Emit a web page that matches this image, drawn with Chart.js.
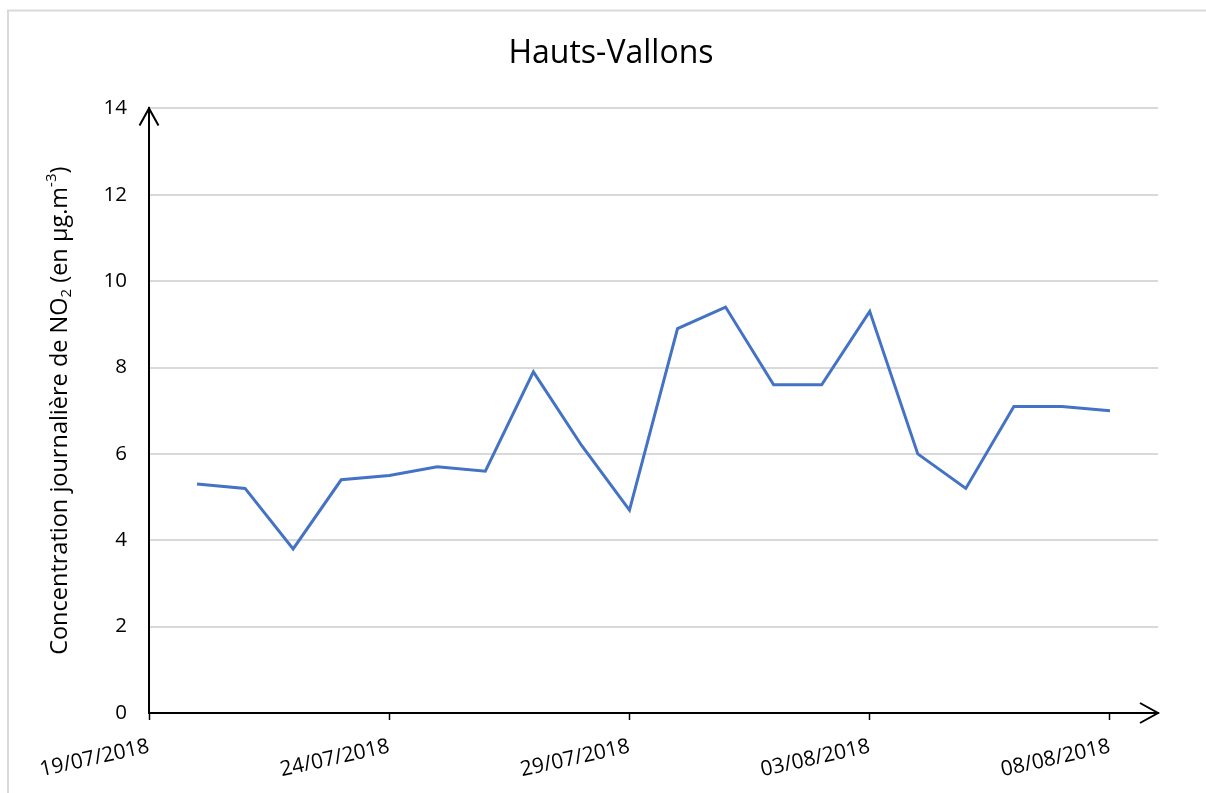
<!DOCTYPE html>
<html>
<head>
<meta charset="utf-8">
<script src="https://cdn.jsdelivr.net/npm/chart.js@4/dist/chart.umd.min.js"></script>
<style>
    html, body { margin: 0; padding: 0; background: #fff; }
    #wrap { width: 1206px; height: 793px; position: relative; }
</style>
</head>
<body>
<div id="wrap"><canvas id="chart"></canvas></div>
<script>
const chartTitle = 'Hauts-Vallons';
const startDate = '19/07/2018';
const dates = ['20/07/2018', '21/07/2018', '22/07/2018', '23/07/2018', '24/07/2018', '25/07/2018', '26/07/2018',
    '27/07/2018', '28/07/2018', '29/07/2018', '30/07/2018', '31/07/2018', '01/08/2018', '02/08/2018',
    '03/08/2018', '04/08/2018', '05/08/2018', '06/08/2018', '07/08/2018', '08/08/2018'];
const no2 = [5.3, 5.2, 3.8, 5.4, 5.5, 5.7, 5.6, 7.9, 6.2, 4.7, 8.9, 9.4, 7.6, 7.6, 9.3, 6.0, 5.2, 7.1, 7.1, 7.0];
const dateTicks = ['19/07/2018', '24/07/2018', '29/07/2018', '03/08/2018', '08/08/2018'];
// y title pieces: [text, 'n' normal | 'sub' | 'sup']
const yTitle = [['Concentration journalière de NO', 'n'], ['2', 'sub'], [' (en µg.m', 'n'], ['-3', 'sup'], [')', 'n']];

const FONT = '"Open Sans", sans-serif';

function dayNum(s) {
    const [d, m, y] = s.split('/').map(Number);
    return Date.UTC(y, m - 1, d) / 86400000;
}
const day0 = dayNum(startDate);
const points = dates.map((d, i) => ({ x: dayNum(d) - day0, y: no2[i] }));

// frame, axis arrows and the y title with sub/superscript
const extras = {
    id: 'extras',
    beforeDraw(chart) {
        const ctx = chart.ctx;
        ctx.save();
        ctx.strokeStyle = '#d9d9d9';
        ctx.lineWidth = 2;
        ctx.strokeRect(8, 10.5, 1400, 1000);
        ctx.restore();
    },
    afterDraw(chart) {
        const ctx = chart.ctx;
        const a = chart.chartArea;
        ctx.save();
        ctx.strokeStyle = '#000';
        ctx.lineWidth = 2;
        ctx.beginPath();
        ctx.moveTo(a.left - 9.5, a.top + 17);
        ctx.lineTo(a.left, a.top);
        ctx.lineTo(a.left + 9.5, a.top + 17);
        ctx.moveTo(a.right - 18, a.bottom - 10);
        ctx.lineTo(a.right, a.bottom);
        ctx.lineTo(a.right - 18, a.bottom + 10);
        ctx.stroke();

        // y title
        const big = '23.5px ' + FONT, small = '15px ' + FONT;
        let total = 0;
        yTitle.forEach(p => {
            ctx.font = p[1] === 'n' ? big : small;
            total += ctx.measureText(p[0]).width;
        });
        ctx.translate(60, (a.top + a.bottom) / 2);
        ctx.rotate(-Math.PI / 2);
        ctx.fillStyle = '#000';
        ctx.textBaseline = 'middle';
        let x = -total / 2;
        yTitle.forEach(p => {
            ctx.font = p[1] === 'n' ? big : small;
            const dy = p[1] === 'sub' ? 7 : (p[1] === 'sup' ? -8 : 0);
            ctx.fillText(p[0], x, dy);
            x += ctx.measureText(p[0]).width;
        });
        ctx.restore();
    }
};

const ctx = document.getElementById('chart').getContext('2d');
new Chart(ctx, {
    type: 'line',
    data: {
        datasets: [{
            label: chartTitle,
            data: points,
            borderColor: '#4472C4',
            borderWidth: 3,
            pointRadius: 0,
            tension: 0,
            fill: false
        }]
    },
    options: {
        responsive: true,
        maintainAspectRatio: false,
        animation: false,
        layout: { padding: { left: 16, right: 0, top: 0, bottom: 0 } },
        plugins: {
            legend: { display: false },
            tooltip: { enabled: false },
            title: {
                display: true,
                text: chartTitle,
                color: '#000',
                font: { family: FONT, size: 32, weight: 'normal' },
                padding: { top: 35, bottom: 35 }
            }
        },
        scales: {
            x: {
                type: 'linear',
                min: 0,
                max: 21,
                afterBuildTicks: axis => {
                    axis.ticks = dateTicks.map(d => ({ value: dayNum(d) - day0 }));
                },
                afterFit: s => { s.height = 80; },
                border: { display: true, color: '#000', width: 2 },
                grid: { drawOnChartArea: false, drawTicks: true, tickLength: 7, tickColor: '#000', tickWidth: 1.5 },
                ticks: {
                    color: '#000',
                    font: { family: FONT, size: 21 },
                    minRotation: 12.5,
                    maxRotation: 12.5,
                    padding: 14,
                    callback: v => {
                        const t = dateTicks.find(d => dayNum(d) - day0 === v);
                        return t || '';
                    }
                }
            },
            y: {
                min: 0,
                max: 14,
                afterFit: s => { s.width = 133; },
                border: { display: true, color: '#000', width: 2 },
                grid: {
                    color: c => c.tick.value === 0 ? 'rgba(0,0,0,0)' : '#d9d9d9',
                    lineWidth: 2,
                    drawTicks: false
                },
                ticks: {
                    stepSize: 2,
                    color: '#000',
                    padding: 22,
                    font: { family: FONT, size: 20.5 }
                }
            },
            y2: {
                position: 'right',
                display: true,
                min: 0,
                max: 14,
                afterFit: s => { s.width = 48; },
                border: { display: false },
                grid: { display: false },
                ticks: { display: false }
            }
        }
    },
    plugins: [extras]
});
</script>
</body>
</html>
